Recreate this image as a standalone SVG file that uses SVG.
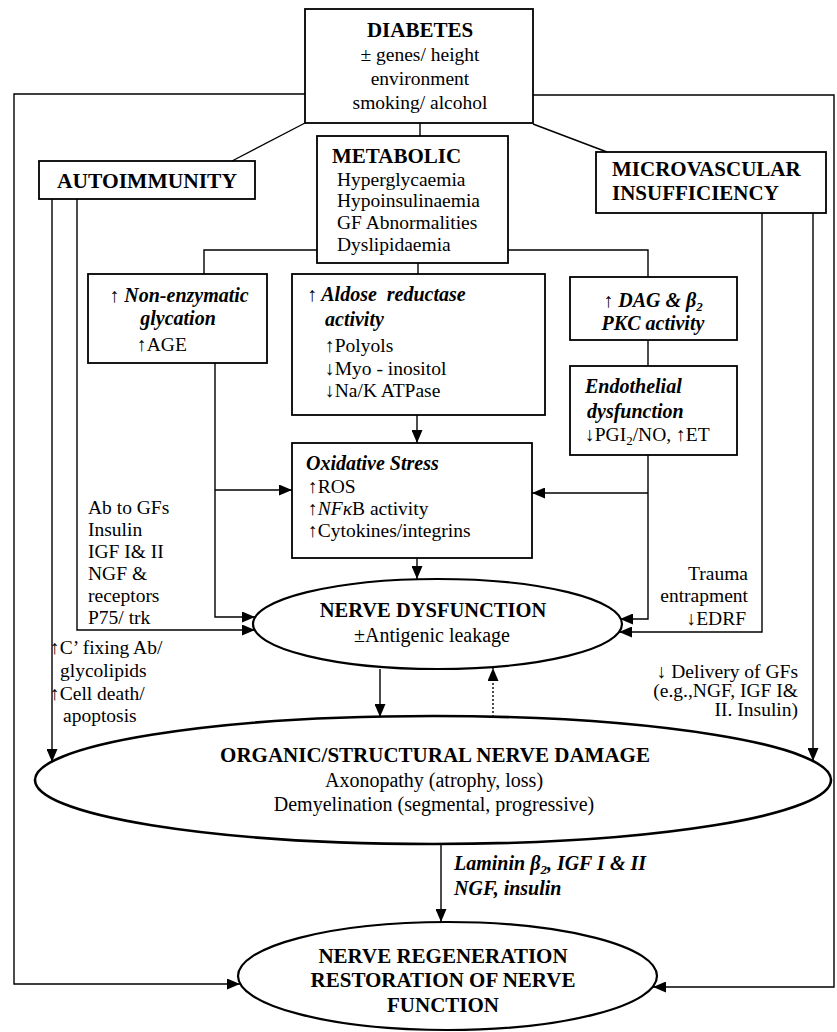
<svg xmlns="http://www.w3.org/2000/svg" width="837" height="1032" viewBox="0 0 837 1032">
<style>
text { font-family: "Liberation Serif", "Times New Roman", serif; fill: #000; }
.r { font-size: 19.5px; }
.b { font-size: 21px; font-weight: bold; }
.bi { font-size: 20px; font-weight: bold; font-style: italic; }
.c { text-anchor: middle; }
.e { text-anchor: end; }
.box { fill: #fff; stroke: #000; stroke-width: 1.8; }
.ell { fill: #fff; stroke: #000; stroke-width: 2.2; }
.ln { fill: none; stroke: #000; stroke-width: 1.4; }
.arr { marker-end: url(#ah); }
.dot { stroke-dasharray: 2 2; }
</style>
<defs>
<marker id="ah" markerUnits="userSpaceOnUse" markerWidth="13" markerHeight="11" refX="13" refY="5.5" orient="auto">
<path d="M0,0 L13,5.5 L0,11 z" fill="#000"/>
</marker>
</defs>
<rect width="837" height="1032" fill="#fff"/>

<g id="diabetes">
<rect class="box" x="305" y="9" width="228" height="114"/>
<text class="b c" x="420" y="37">DIABETES</text>
<text class="r c" x="420" y="61">± genes/ height</text>
<text class="r c" x="420" y="85">environment</text>
<text class="r c" x="420" y="109">smoking/ alcohol</text>
</g>

<g id="autoimmunity">
<rect class="box" x="39" y="161" width="216" height="38"/>
<text class="b c" x="147" y="188" style="font-size:21.5px">AUTOIMMUNITY</text>
</g>

<g id="metabolic">
<rect class="box" x="317" y="136" width="191" height="127"/>
<text class="b" x="332" y="163">METABOLIC</text>
<text class="r" x="337" y="186">Hyperglycaemia</text>
<text class="r" x="337" y="207">Hypoinsulinaemia</text>
<text class="r" x="337" y="229">GF Abnormalities</text>
<text class="r" x="337" y="251">Dyslipidaemia</text>
</g>

<g id="microvascular">
<rect class="box" x="596" y="152" width="230" height="61"/>
<text class="b" x="612" y="176">MICROVASCULAR</text>
<text class="b" x="612" y="200">INSUFFICIENCY</text>
</g>

<g id="glycation">
<rect class="box" x="88" y="274" width="179" height="89"/>
<text class="bi c" x="179" y="302">↑ Non-enzymatic</text>
<text class="bi c" x="178" y="325">glycation</text>
<text class="r" x="137" y="351">↑AGE</text>
</g>

<g id="aldose">
<rect class="box" x="292" y="274" width="253" height="141"/>
<text class="bi" x="307" y="301" style="white-space:pre">↑ Aldose  reductase</text>
<text class="bi" x="325" y="326">activity</text>
<text class="r" x="325" y="352">↑Polyols</text>
<text class="r" x="325" y="375">↓Myo - inositol</text>
<text class="r" x="325" y="397">↓Na/K ATPase</text>
</g>

<g id="dag">
<rect class="box" x="570" y="277" width="167" height="63"/>
<text class="bi c" x="653" y="307">↑ DAG &amp; β<tspan font-size="13" dy="4">2</tspan></text>
<text class="bi c" x="653" y="330">PKC activity</text>
</g>

<g id="endothelial">
<rect class="box" x="570" y="366" width="167" height="89"/>
<text class="bi" x="585" y="393">Endothelial</text>
<text class="bi" x="587" y="418">dysfunction</text>
<text class="r" x="585" y="441">↓PGI<tspan font-size="13" dy="4">2</tspan><tspan dy="-4">/NO, ↑ET</tspan></text>
</g>

<g id="oxidative">
<rect class="box" x="292" y="443" width="240" height="115"/>
<text class="bi" x="306" y="470">Oxidative Stress</text>
<text class="r" x="308" y="493">↑ROS</text>
<text class="r" x="308" y="515">↑<tspan font-style="italic">NFκ</tspan>B activity</text>
<text class="r" x="308" y="537">↑Cytokines/integrins</text>
</g>

<g id="nerve-dysfunction">
<ellipse class="ell" cx="437.5" cy="624" rx="184.5" ry="45"/>
<text class="b c" x="433" y="617" style="font-size:20.5px">NERVE DYSFUNCTION</text>
<text class="r c" x="432" y="642" style="font-size:20px">±Antigenic leakage</text>
</g>

<g id="structural-damage">
<ellipse class="ell" cx="433" cy="780" rx="398" ry="64" style="stroke-width:2.6"/>
<text class="b c" x="435" y="762">ORGANIC/STRUCTURAL NERVE DAMAGE</text>
<text class="r c" x="434" y="787" style="font-size:20px">Axonopathy (atrophy, loss)</text>
<text class="r c" x="434" y="811" style="font-size:20px">Demyelination (segmental, progressive)</text>
</g>

<g id="regeneration">
<ellipse class="ell" cx="447.5" cy="976" rx="209.5" ry="54"/>
<text class="b c" x="443" y="963">NERVE REGENERATION</text>
<text class="b c" x="443" y="987">RESTORATION OF NERVE</text>
<text class="b c" x="443" y="1012">FUNCTION</text>
</g>

<g id="connectors">
<path class="ln arr" d="M305,94 H14 V984 H240"/>
<path class="ln arr" d="M533,95 H834 V987 H653"/>
<path class="ln" d="M305,123 L232,161"/>
<path class="ln" d="M533,124 L607,152"/>
<path class="ln" d="M420,123 V136"/>
<path class="ln" d="M317,250 H204 V274"/>
<path class="ln" d="M508,250 H648 V277"/>
<path class="ln" d="M418,263 V274"/>
<path class="ln" d="M648,340 V366"/>
<path class="ln arr" d="M417,415 V443"/>
<path class="ln arr" d="M417,558 V579"/>
<path class="ln arr" d="M215,363 V617 H255"/>
<path class="ln arr" d="M215,490 H292"/>
<path class="ln arr" d="M648,455 V619 H620"/>
<path class="ln arr" d="M648,493 H532"/>
<path class="ln arr" d="M52,199 V762"/>
<path class="ln arr" d="M77,199 V630 H255"/>
<path class="ln arr" d="M762,213 V632 H619"/>
<path class="ln arr" d="M813,213 V761"/>
<path class="ln arr" d="M380,669 V717"/>
<path class="ln arr dot" d="M493,717 V668"/>
<path class="ln arr" d="M441,844 V922"/>

<text class="r" x="88" y="514">Ab to GFs</text>
<text class="r" x="88" y="536">Insulin</text>
<text class="r" x="88" y="558">IGF I&amp; II</text>
<text class="r" x="88" y="580">NGF &amp;</text>
<text class="r" x="88" y="602">receptors</text>
<text class="r" x="88" y="624">P75/ trk</text>

<text class="r" x="50" y="654">↑C’ fixing Ab/</text>
<text class="r" x="60" y="677">glycolipids</text>
<text class="r" x="50" y="700">↑Cell death/</text>
<text class="r" x="63" y="722">apoptosis</text>

<text class="r e" x="748" y="580">Trauma</text>
<text class="r e" x="748" y="602">entrapment</text>
<text class="r e" x="746" y="625">↓EDRF</text>

<text class="r e" x="798" y="678">↓ Delivery of GFs</text>
<text class="r e" x="798" y="697">(e.g.,NGF, IGF I&amp;</text>
<text class="r e" x="798" y="716">II. Insulin)</text>

<text class="bi" x="454" y="870">Laminin β<tspan font-size="13" dy="4">2</tspan><tspan dy="-4">, IGF I &amp; II</tspan></text>
<text class="bi" x="454" y="895">NGF, insulin</text>
</g>
</svg>
